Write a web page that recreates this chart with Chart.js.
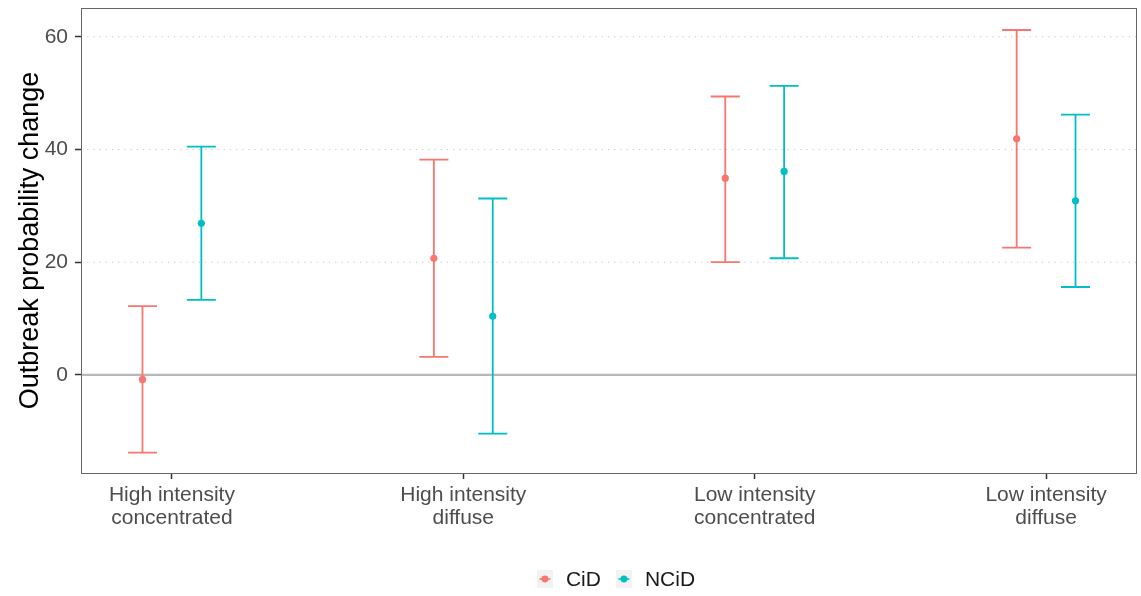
<!DOCTYPE html>
<html><head><meta charset="utf-8">
<script src="https://cdn.jsdelivr.net/npm/chart.js@4"></script>
<style>html,body{margin:0;padding:0;background:#fff}#wrap{width:1141px;height:596px}</style>
</head><body><div id="wrap"><canvas id="c" width="1141" height="596"></canvas></div>
<script>
const categories = [["High intensity","concentrated"],["High intensity","diffuse"],["Low intensity","concentrated"],["Low intensity","diffuse"]];
const seriesNames = ["CiD","NCiD"];
const cidEst  = [-0.8, 20.7, 34.9, 41.9];
const cidLow  = [-13.8, 3.2, 20.0, 22.6];
const cidHigh = [12.2, 38.2, 49.4, 61.2];
const ncidEst  = [26.9, 10.4, 36.1, 30.9];
const ncidLow  = [13.3, -10.4, 20.7, 15.6];
const ncidHigh = [40.5, 31.3, 51.3, 46.2];
const yTicks = [0, 20, 40, 60];

const colors = ["#F8766D", "#00BFC4"];
const dodge = 0.101;
const FONT = 'Liberation Sans, Arial, sans-serif';

function pts(est, lo, hi, off){
  return est.map((v,i)=>({x: i+1+off, y: v, lo: lo[i], hi: hi[i]}));
}

const errPlugin = {
  id: 'err',
  beforeDatasetsDraw(chart){
    const ctx = chart.ctx, ys = chart.scales.y, a = chart.chartArea;
    ctx.save();
    ys.ticks.forEach(t=>{
      const py = ys.getPixelForValue(t.value);
      ctx.beginPath();
      if (t.value === 0){ ctx.setLineDash([]); ctx.strokeStyle='#b8b8b8'; ctx.lineWidth=2.2; }
      else { ctx.setLineDash([1.2,5]); ctx.strokeStyle='#c8c8c8'; ctx.lineWidth=1.1; }
      ctx.moveTo(a.left, py); ctx.lineTo(a.right, py); ctx.stroke();
    });
    ctx.setLineDash([]);
    chart.data.datasets.forEach((ds, di)=>{
      const meta = chart.getDatasetMeta(di);
      ctx.strokeStyle = ds.borderColor; ctx.lineWidth = 1.8;
      meta.data.forEach((el, i)=>{
        const d = ds.data[i];
        const x = el.x, y1 = ys.getPixelForValue(d.lo), y2 = ys.getPixelForValue(d.hi);
        ctx.beginPath();
        ctx.moveTo(x, y1); ctx.lineTo(x, y2);
        ctx.moveTo(x-14.5, y1); ctx.lineTo(x+14.5, y1);
        ctx.moveTo(x-14.5, y2); ctx.lineTo(x+14.5, y2);
        ctx.stroke();
      });
    });
    ctx.restore();
  },
  afterDraw(chart){
    const ctx = chart.ctx, a = chart.chartArea;
    ctx.save(); ctx.strokeStyle = '#666'; ctx.lineWidth = 1;
    ctx.strokeRect(Math.round(a.left)+0.5, Math.round(a.top)+0.5, Math.round(a.right-a.left)-1, Math.round(a.bottom-a.top));
    // legend (ggplot-style keys), centred under the panel
    const cy = 579;
    const names = chart.data.datasets.map(d=>d.label);
    ctx.font = '21px ' + FONT;
    const keyW = 16, gapKT = 13, gapItems = 15;
    const widths = names.map(n=>keyW + gapKT + ctx.measureText(n).width);
    const total = widths.reduce((s,w)=>s+w,0) + gapItems*(names.length-1);
    let x = (a.left + a.right)/2 - total/2 + 7;
    names.forEach((n,i)=>{
      const col = chart.data.datasets[i].borderColor;
      ctx.fillStyle = '#f2f2f2'; ctx.fillRect(x, cy-9, keyW, 18);
      ctx.strokeStyle = col; ctx.lineWidth = 1.6;
      ctx.beginPath(); ctx.moveTo(x+2.5, cy); ctx.lineTo(x+keyW-2.5, cy); ctx.stroke();
      ctx.fillStyle = col; ctx.beginPath(); ctx.arc(x+keyW/2, cy, 3.4, 0, Math.PI*2); ctx.fill();
      ctx.fillStyle = '#1a1a1a'; ctx.textBaseline = 'middle'; ctx.textAlign = 'left';
      ctx.fillText(n, x + keyW + gapKT, cy + 1);
      x += widths[i] + gapItems;
    });
    ctx.restore();
  }
};

new Chart(document.getElementById('c'), {
  type: 'scatter',
  data: {
    datasets: [
      {label: seriesNames[0], data: pts(cidEst, cidLow, cidHigh, -dodge), borderColor: colors[0], backgroundColor: colors[0], pointRadius: 3.6, pointBorderWidth: 0, pointStyle: 'circle'},
      {label: seriesNames[1], data: pts(ncidEst, ncidLow, ncidHigh, dodge), borderColor: colors[1], backgroundColor: colors[1], pointRadius: 3.6, pointBorderWidth: 0, pointStyle: 'circle'}
    ]
  },
  options: {
    responsive: false, animation: false,
    layout: {padding: {top: 8, right: 3, left: 0, bottom: 0}},
    plugins: {
      tooltip: {enabled: false},
      legend: {display: false}
    },
    scales: {
      x: {
        type: 'linear', min: 0.688, max: 4.312,
        afterBuildTicks(s){ s.ticks = categories.map((c,i)=>({value: i+1})); },
        afterFit(s){ s.height = 123; s.paddingLeft = 0; s.paddingRight = 0; },
        grid: {drawOnChartArea: false, drawTicks: true, tickLength: 6, tickColor: '#333', tickWidth: 1.5},
        border: {display: false},
        ticks: {color: '#4d4d4d', padding: 4, font: {family: FONT, size: 21, lineHeight: 1.12}, maxRotation: 0,
          callback: (v)=> categories[Math.round(v)-1] || ''}
      },
      y: {
        type: 'linear', min: -17.4, max: 65.1,
        afterBuildTicks(s){ s.ticks = yTicks.map(v=>({value: v})); },
        afterFit(s){ s.width = 81; s.paddingTop = 0; s.paddingBottom = 0; },
        grid: {drawOnChartArea: false, drawTicks: true, tickLength: 6, tickColor: '#333', tickWidth: 1.5},
        border: {display: false},
        ticks: {color: '#4d4d4d', padding: 7, font: {family: FONT, size: 21}},
        title: {display: true, text: 'Outbreak probability change', color: '#000', font: {family: FONT, size: 27, lineHeight: 1.2}, padding: {top: 14, bottom: 0}}
      }
    }
  },
  plugins: [errPlugin]
});
</script></body></html>
